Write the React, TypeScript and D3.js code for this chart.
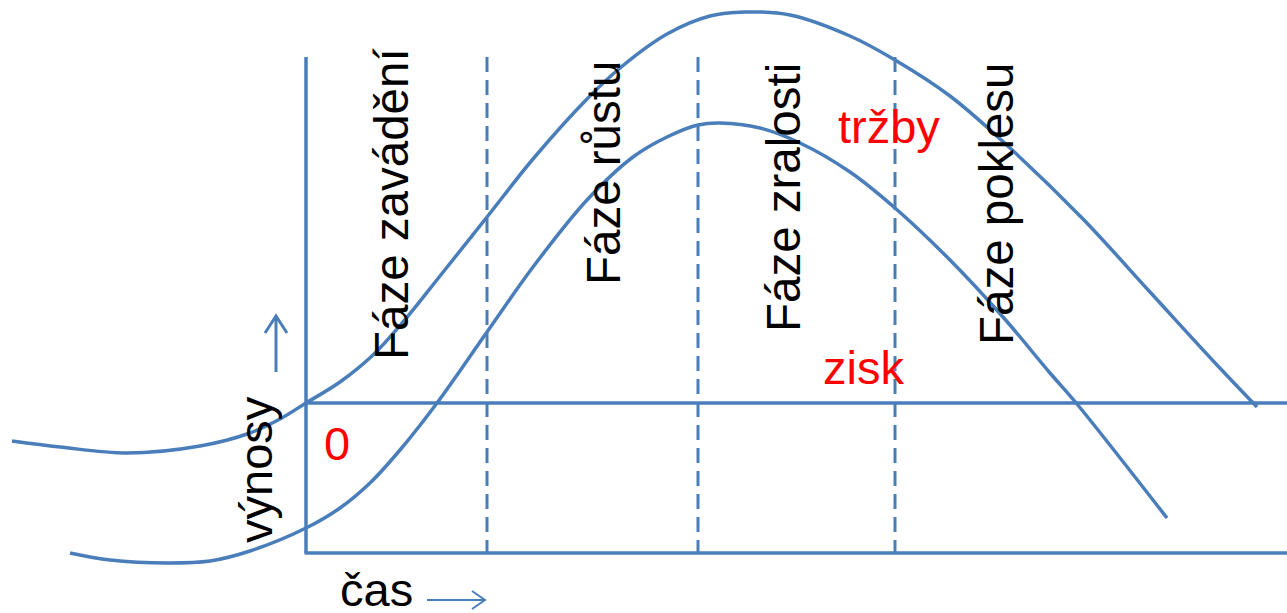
import React from 'react';
import * as d3 from 'd3';

// time axis (arbitrary units), value axis (arbitrary units)
const salesT = [-29.4, -24.6, -17.9, -10.6, -5.6, -2.6, 0, 3.4, 6.7, 9.7, 13.4, 18.1, 22.7, 28.1, 31.4, 36.1, 40.4, 43.9, 48.4, 54.4, 58.9, 64.4, 70.4, 77.7, 84.4, 91.1, 95.1];
const salesV = [-7.6, -8.8, -10, -8.6, -6, -3.2, 0, 4.2, 9.6, 16.2, 25.4, 37.2, 48.8, 60.8, 67, 73.8, 77.4, 78.2, 77.6, 73.4, 68.6, 61.4, 51, 36.8, 22.2, 7.6, -0.8];

const profitT = [-23.6, -19.6, -13.9, -9.6, -5.6, 0, 3.4, 6.4, 9.4, 13.1, 18.1, 22.7, 28.1, 32.7, 36.1, 39.2, 41.4, 45.4, 49.4, 54.4, 58.9, 64.4, 69.7, 74.4, 77.1, 86.1];
const profitV = [-30, -31.4, -32, -31.6, -29.6, -25, -21, -16, -9.4, 0, 14.2, 27.2, 40.6, 49.2, 53.2, 55.6, 56, 55, 52, 46.2, 39, 28.6, 17.2, 6, -0.2, -23];

const phaseBounds = [18.1, 39.2, 58.9];
const phaseLabels = ['Fáze zavádění', 'Fáze růstu', 'Fáze zralosti', 'Fáze poklesu'];
const phaseLabelT = [10.2, 31.4, 49.4, 70.7];
const phaseLabelV = [8.6, 23.6, 14.2, 11.6];

const W = 1287;
const H = 613;
const BLUE = '#4a7ebb';
const FONT = '"Liberation Sans", Arial, sans-serif';

const x = d3.scaleLinear().domain([-29.4, 98.1]).range([12, 1287]);
const y = d3.scaleLinear().domain([-30, 78]).range([553, 13]);
const axisTop = 69.2;

const line = d3
  .line<[number, number]>()
  .x((d) => x(d[0]))
  .y((d) => y(d[1]))
  .curve(d3.curveCatmullRom.alpha(0.5));

const App = () => {
  const sales = salesT.map((t, i) => [t, salesV[i]] as [number, number]);
  const profit = profitT.map((t, i) => [t, profitV[i]] as [number, number]);
  const x0 = x(0);
  const y0 = y(0);
  const yb = y(-30);
  const yt = y(axisTop);

  return (
    <svg width={W} height={H} style={{ position: 'absolute', left: 0, top: 0, background: '#fff' }}>
      {/* phase separators */}
      {phaseBounds.map((b) => (
        <line key={b} x1={x(b)} x2={x(b)} y1={yt} y2={yb} stroke={BLUE} strokeWidth={3} strokeDasharray="15 8" />
      ))}

      {/* axes */}
      <line x1={x0} x2={x0} y1={yt} y2={yb} stroke={BLUE} strokeWidth={3.5} />
      <line x1={x0 - 1.5} x2={W} y1={yb} y2={yb} stroke={BLUE} strokeWidth={3.5} />
      <line x1={x0} x2={W} y1={y0} y2={y0} stroke={BLUE} strokeWidth={3.5} />

      {/* curves */}
      <path d={line(sales) || ''} fill="none" stroke={BLUE} strokeWidth={3.5} />
      <path d={line(profit) || ''} fill="none" stroke={BLUE} strokeWidth={3.5} />

      {/* phase labels */}
      {phaseLabels.map((lab, i) => (
        <text
          key={lab}
          transform={`translate(${x(phaseLabelT[i])},${y(phaseLabelV[i])}) rotate(-90)`}
          fontFamily={FONT}
          fontSize={47.5}
          fill="#000"
        >
          {lab}
        </text>
      ))}

      {/* curve names */}
      <text x={838} y={143} fontFamily={FONT} fontSize={47} fill="#ff0000">tržby</text>
      <text x={823} y={384} fontFamily={FONT} fontSize={47} fill="#ff0000">zisk</text>
      <text x={x0 + 18} y={y0 + 57} fontFamily={FONT} fontSize={47} fill="#ff0000">0</text>

      {/* axis titles */}
      <text transform={`translate(272,543) rotate(-90)`} fontFamily={FONT} fontSize={47} fill="#000">výnosy</text>
      <text x={340} y={606} fontFamily={FONT} fontSize={47} fill="#000">čas</text>

      {/* arrows */}
      <g fill="none" stroke={BLUE} strokeWidth={3}>
        <line x1={276} x2={276} y1={372} y2={316} />
        <polyline points="265,333 276,316 287,333" />
      </g>
      <g fill="none" stroke={BLUE} strokeWidth={2}>
        <line x1={427} x2={485} y1={600} y2={600} />
        <polyline points="472,591 485,600 472,609" />
      </g>
    </svg>
  );
};

export default App;
